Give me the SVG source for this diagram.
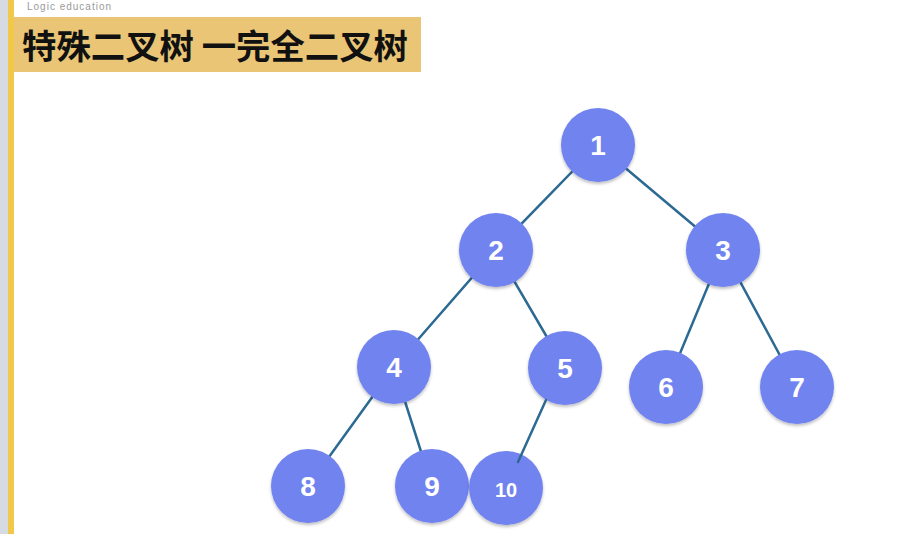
<svg xmlns="http://www.w3.org/2000/svg" width="916" height="534" viewBox="0 0 916 534">
<defs>
<filter id="sh" x="-20%" y="-20%" width="140%" height="150%">
<feDropShadow dx="0" dy="2" stdDeviation="1.5" flood-color="#000" flood-opacity="0.25"/>
</filter>
</defs>
<style>
.n circle{fill:#7183ef;filter:url(#sh)}
.n text{fill:#fff;font-family:"Liberation Sans",Arial,sans-serif;font-size:28px;font-weight:bold;text-anchor:middle}
.e line{stroke:#2c6a93;stroke-width:2.5;stroke-linecap:round}
</style>
<rect x="0" y="0" width="916" height="534" fill="#fff"/>
<rect x="0" y="0" width="8" height="534" fill="#d6dae3"/>
<rect x="8" y="0" width="6" height="534" fill="#f2c84a"/>
<text x="27" y="10" font-family="'Liberation Sans',Arial,sans-serif" font-size="10" fill="#9a9a9a" letter-spacing="1">Logic education</text>
<g id="title">
<rect x="14" y="17" width="407" height="55" fill="#e9c575"/>
<text x="22" y="59" font-family="'Noto Sans CJK SC',sans-serif" font-size="34" font-weight="bold" fill="#111" textLength="386" lengthAdjust="spacingAndGlyphs">特殊二叉树 一完全二叉树</text>
</g>
<g id="edges" class="e">
<line x1="598" y1="145" x2="496" y2="250"/>
<line x1="598" y1="145" x2="723" y2="250"/>
<line x1="496" y1="250" x2="394" y2="367"/>
<line x1="496" y1="250" x2="565" y2="368"/>
<line x1="723" y1="250" x2="666" y2="387"/>
<line x1="723" y1="250" x2="797" y2="387"/>
<line x1="394" y1="367" x2="308" y2="486"/>
<line x1="394" y1="367" x2="432" y2="486"/>
</g>
<g id="n1" class="n"><circle cx="598" cy="145" r="37"/><text x="598" y="155">1</text></g>
<g id="n2" class="n"><circle cx="496" cy="250" r="37"/><text x="496" y="260">2</text></g>
<g id="n3" class="n"><circle cx="723" cy="250" r="37"/><text x="723" y="260">3</text></g>
<g id="n4" class="n"><circle cx="394" cy="367" r="37"/><text x="394" y="377">4</text></g>
<g id="n5" class="n"><circle cx="565" cy="368" r="37"/><text x="565" y="378">5</text></g>
<g id="n6" class="n"><circle cx="666" cy="387" r="37"/><text x="666" y="397">6</text></g>
<g id="n7" class="n"><circle cx="797" cy="387" r="37"/><text x="797" y="397">7</text></g>
<g id="n8" class="n"><circle cx="308" cy="486" r="37"/><text x="308" y="496">8</text></g>
<g id="n9" class="n"><circle cx="432" cy="486" r="37"/><text x="432" y="496">9</text></g>
<g id="n10" class="n"><circle cx="506" cy="488" r="37"/><text x="506" y="497" style="font-size:20px">10</text></g>
<g id="edges2" class="e">
<line x1="546" y1="400" x2="518" y2="462"/>
</g>
</svg>
